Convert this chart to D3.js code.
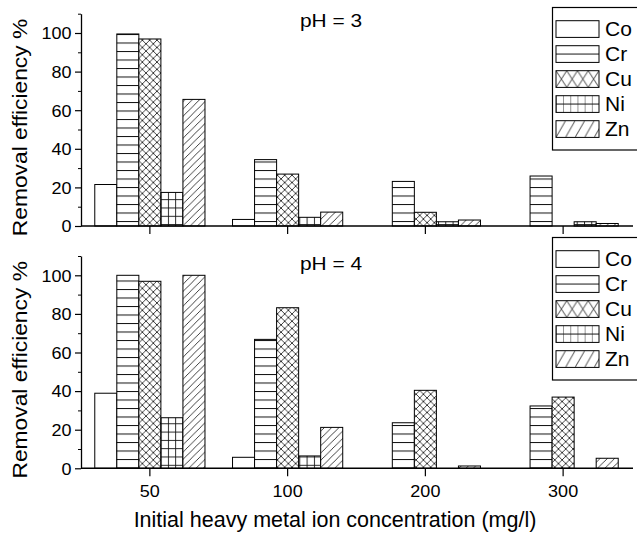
<!DOCTYPE html>
<html lang="en">
<head>
<meta charset="UTF-8">
<script src="https://d3js.org/d3.v7.min.js"></script>
<title>Removal efficiency by pH</title>
<style>
  body { margin: 0; background: #fff; }
  svg { display: block; font-family: "Liberation Sans", Arial, sans-serif; }
</style>
</head>
<body>
<svg id="chart" width="637" height="535"></svg>
<script>
// data
const concentrations = ["50", "100", "200", "300"];
const metals = ["Co", "Cr", "Cu", "Ni", "Zn"];
const yMajorTicks = [0, 20, 40, 60, 80, 100];
const yMinorTicks = [10, 30, 50, 70, 90, 110];

// removal efficiency %, one array per metal, in order of concentrations
const ph3Co = [21.5, 3.4, 0, 0];
const ph3Cr = [99.5, 34.4, 23.1, 25.9];
const ph3Cu = [96.9, 26.9, 7.1, 0];
const ph3Ni = [17.4, 4.5, 2.2, 2.2];
const ph3Zn = [65.6, 7.2, 3.1, 1.3];

const ph4Co = [38.9, 5.7, 0, 0];
const ph4Cr = [100, 66.8, 23.6, 32.3];
const ph4Cu = [96.9, 83.2, 40.4, 36.9];
const ph4Ni = [26.2, 6.4, 0, 0];
const ph4Zn = [100, 21.2, 1.2, 5.2];

const panels = [
  { title: "pH = 3", series: [ph3Co, ph3Cr, ph3Cu, ph3Ni, ph3Zn], base: 226, top: 13.7, legendTop: 7.5, labels: false },
  { title: "pH = 4", series: [ph4Co, ph4Cr, ph4Cu, ph4Ni, ph4Zn], base: 468.3, top: 256, legendTop: 237.5, labels: true }
];

const svg = d3.select("#chart");
const left = 81, right = 632;

const x = d3.scaleBand().domain(concentrations).range([left, right]).padding(0);
const bw = x.bandwidth();
const xm = d3.scaleBand().domain(metals).range([bw * 0.1, bw * 0.9]).padding(0);

// fill patterns
const defs = svg.append("defs");
function pattern(id, w, h, d, sw) {
  const p = defs.append("pattern").attr("id", id)
    .attr("patternUnits", "userSpaceOnUse").attr("width", w).attr("height", h);
  p.append("rect").attr("width", w).attr("height", h).attr("fill", "#fff");
  if (d) p.append("path").attr("d", d).attr("stroke", "#111").attr("stroke-width", sw || 1).attr("fill", "none");
}
// bar patterns
pattern("p-Co", 8, 8, null);
pattern("p-Cr", 10, 8.5, "M0,0.5H10", 1);
pattern("p-Cu", 7.3, 7.3, "M0,0L7.3,7.3M7.3,0L0,7.3", 0.8);
pattern("p-Ni", 7.3, 8.3, "M0.5,0V8.3M0,0.5H7.3", 0.9);
pattern("p-Zn", 7.3, 7.3, "M0,7.3L7.3,0M-1,1L1,-1M6.3,8.3L8.3,6.3", 0.8);
// legend swatch patterns (coarser)
const sw = 43, sh = 16.7;
pattern("l-Co", 8, 8, null);
pattern("l-Cr", sw, sh, "M0," + sh / 2 + "H" + sw, 1);
pattern("l-Cu", sw / 4, sh, "M0,0L" + sw / 4 + "," + sh + "M" + sw / 4 + ",0L0," + sh, 0.8);
pattern("l-Ni", sw / 6, sh, "M0,0V" + sh + "M0," + sh / 2 + "H" + sw / 6, 0.9);
pattern("l-Zn", sw / 4.5, sh, "M0," + sh + "L" + sw / 4.5 + ",0", 0.8);

const font = "Liberation Sans, Arial, sans-serif";

panels.forEach(panel => {
  const y = d3.scaleLinear().domain([0, 110]).range([panel.base, panel.top]);
  const g = svg.append("g");

  // bars
  const rows = [];
  panel.series.forEach((vals, mi) => {
    vals.forEach((v, ci) => {
      if (v > 0) rows.push({ metal: metals[mi], conc: concentrations[ci], value: v });
    });
  });
  g.append("g").selectAll("rect")
    .data(rows)
    .join("rect")
    .attr("x", d => x(d.conc) + xm(d.metal))
    .attr("width", xm.bandwidth())
    .attr("y", d => y(d.value))
    .attr("height", d => y(0) - y(d.value))
    .attr("fill", d => "url(#p-" + d.metal + ")")
    .attr("stroke", "#000")
    .attr("stroke-width", 1);

  // y axis: minor ticks with full domain line, then major ticks with labels
  g.append("g")
    .attr("transform", "translate(" + left + ",0)")
    .call(d3.axisLeft(y).tickValues(yMinorTicks).tickSize(3).tickSizeOuter(0).tickFormat(""))
    .call(a => a.select(".domain").attr("stroke-width", 1.3));
  const ya = g.append("g")
    .attr("transform", "translate(" + left + ",0)")
    .call(d3.axisLeft(y).tickValues(yMajorTicks).tickSize(6).tickSizeOuter(0));
  ya.select(".domain").remove();
  ya.selectAll(".tick line").attr("stroke-width", 1.2);
  ya.selectAll(".tick text")
    .attr("x", 0).attr("dy", null).attr("y", 0)
    .attr("dominant-baseline", "central")
    .attr("transform", "translate(-9.5,0) scale(1.06,1)")
    .style("font-size", "17px").style("font-family", font).attr("fill", "#000");

  // x axis
  const xa = g.append("g")
    .attr("transform", "translate(0," + panel.base + ")")
    .call(d3.axisBottom(x).tickSize(8).tickSizeOuter(0));
  xa.select(".domain").attr("stroke-width", 1.5).attr("d", "M" + left + ",0H633");
  xa.selectAll(".tick line").attr("stroke-width", 1.2);
  if (panel.labels) {
    xa.selectAll(".tick text")
      .attr("y", 0).attr("dy", null)
      .attr("transform", "translate(0,29) scale(1.06,1)")
      .style("font-size", "17px").style("font-family", font).attr("fill", "#000");
  } else {
    xa.selectAll(".tick text").remove();
  }

  // panel title
  g.append("text")
    .attr("transform", "translate(331," + (panel.top + 13.5) + ") scale(1.1,1)")
    .attr("text-anchor", "middle")
    .style("font-size", "19px").style("font-family", font)
    .text(panel.title);

  // y axis title
  g.append("text")
    .attr("transform", "translate(27," + (y(50) - 2) + ") rotate(-90) scale(1.14,1)")
    .attr("text-anchor", "middle")
    .style("font-size", "20px").style("font-family", font)
    .text("Removal efficiency %");

  // legend
  const lg = g.append("g").attr("transform", "translate(552.5," + panel.legendTop + ")");
  lg.append("rect").attr("width", 100).attr("height", 142.5)
    .attr("fill", "#fff").attr("stroke", "#000").attr("stroke-width", 1.2);
  const items = lg.selectAll("g.item").data(metals).join("g")
    .attr("class", "item")
    .attr("transform", (d, i) => "translate(3.5," + (13.2 + i * 25) + ")");
  items.append("rect")
    .attr("width", sw).attr("height", sh)
    .attr("fill", d => "url(#l-" + d + ")")
    .attr("stroke", "#000").attr("stroke-width", 1);
  items.append("text")
    .attr("transform", "translate(49," + (sh / 2 + 7) + ") scale(1.05,1)")
    .style("font-size", "20px").style("font-family", font)
    .text(d => d);
});

// x axis title
svg.append("text")
  .attr("x", 335).attr("y", 527)
  .attr("text-anchor", "middle")
  .style("font-size", "21.5px").style("font-family", font)
  .text("Initial heavy metal ion concentration (mg/l)");
</script>
</body>
</html>
